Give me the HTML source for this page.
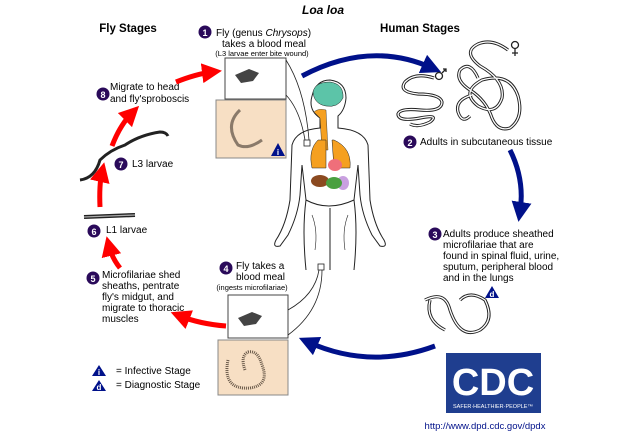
<!DOCTYPE html>
<html><head><meta charset="utf-8"><style>
html,body{margin:0;padding:0;background:#fff;}
svg{display:block;font-family:"Liberation Sans",Arial,sans-serif;}
</style></head><body>
<svg width="630" height="435" viewBox="0 0 630 435" xmlns="http://www.w3.org/2000/svg">
<defs>
<marker id="rh" markerWidth="4" markerHeight="4" refX="2" refY="2" orient="auto" markerUnits="strokeWidth"><path d="M0,0 L4,2 L0,4z" fill="#f00"/></marker>
<marker id="bh" markerWidth="4" markerHeight="4" refX="2" refY="2" orient="auto" markerUnits="strokeWidth"><path d="M0,0 L4,2 L0,4z" fill="#00118a"/></marker>
</defs>
<text x="323" y="14" font-size="12" font-weight="bold" font-style="italic" text-anchor="middle">Loa loa</text>
<text x="128" y="32" font-size="11.5" font-weight="bold" text-anchor="middle">Fly Stages</text>
<text x="420" y="32" font-size="11.5" font-weight="bold" text-anchor="middle">Human Stages</text>

<g font-size="10">
<circle cx="205" cy="32" r="6.5" fill="#2a0a5a"/><text x="205" y="36" fill="#fff" font-size="9" font-weight="bold" text-anchor="middle">1</text>
<text x="216" y="36">Fly (genus <tspan font-style="italic">Chrysops</tspan>)</text>
<text x="264" y="47" text-anchor="middle">takes a blood meal</text>
<text x="262" y="56" font-size="7.5" text-anchor="middle">(L3 larvae enter bite wound)</text>

<circle cx="410" cy="142" r="6.5" fill="#2a0a5a"/><text x="410" y="146" fill="#fff" font-size="9" font-weight="bold" text-anchor="middle">2</text>
<text x="420" y="145">Adults in subcutaneous tissue</text>

<circle cx="435" cy="234" r="6.5" fill="#2a0a5a"/><text x="435" y="238" fill="#fff" font-size="9" font-weight="bold" text-anchor="middle">3</text>
<text x="443" y="237">Adults produce sheathed</text>
<text x="443" y="248">microfilariae that are</text>
<text x="443" y="259">found in spinal fluid, urine,</text>
<text x="443" y="270">sputum, peripheral blood</text>
<text x="443" y="281">and in the lungs</text>

<circle cx="226" cy="268" r="6.5" fill="#2a0a5a"/><text x="226" y="272" fill="#fff" font-size="9" font-weight="bold" text-anchor="middle">4</text>
<text x="236" y="269">Fly takes a</text>
<text x="236" y="280">blood meal</text>
<text x="252" y="290" font-size="7.5" text-anchor="middle">(ingests microfilariae)</text>

<circle cx="93" cy="278" r="6.5" fill="#2a0a5a"/><text x="93" y="282" fill="#fff" font-size="9" font-weight="bold" text-anchor="middle">5</text>
<text x="102" y="278">Microfilariae shed</text>
<text x="102" y="289">sheaths, pentrate</text>
<text x="102" y="300">fly's midgut, and</text>
<text x="102" y="311">migrate to thoracic</text>
<text x="102" y="322">muscles</text>

<circle cx="94" cy="231" r="6.5" fill="#2a0a5a"/><text x="94" y="235" fill="#fff" font-size="9" font-weight="bold" text-anchor="middle">6</text>
<text x="106" y="233">L1 larvae</text>

<circle cx="121" cy="164" r="6.5" fill="#2a0a5a"/><text x="121" y="168" fill="#fff" font-size="9" font-weight="bold" text-anchor="middle">7</text>
<text x="132" y="167">L3 larvae</text>

<circle cx="103" cy="94" r="6.5" fill="#2a0a5a"/><text x="103" y="98" fill="#fff" font-size="9" font-weight="bold" text-anchor="middle">8</text>
<text x="110" y="90">Migrate to head</text>
<text x="110" y="102">and fly'sproboscis</text>

<path d="M99,365 L106,376 L92,376z" fill="#00118a"/><text x="99" y="375" fill="#fff" font-size="8" font-weight="bold" text-anchor="middle">i</text>
<text x="116" y="374">= Infective Stage</text>
<path d="M99,380 L106,391 L92,391z" fill="#00118a"/><text x="99" y="390" fill="#fff" font-size="8" font-weight="bold" text-anchor="middle">d</text>
<text x="116" y="388">= Diagnostic Stage</text>
</g>

<!-- red arrows -->
<g fill="none" stroke="#f00" stroke-width="5">
<path d="M176,82 Q196,74 212,72" marker-end="url(#rh)"/>
<path d="M112,146 Q120,125 132,113" marker-end="url(#rh)"/>
<path d="M100,207 Q99,185 102,172" marker-end="url(#rh)"/>
<path d="M120,268 Q112,258 109,246" marker-end="url(#rh)"/>
<path d="M226,326 Q200,324 180,316" marker-end="url(#rh)"/>
</g>
<!-- blue arrows -->
<g fill="none" stroke="#00118a" stroke-width="5">
<path d="M302,76 Q370,40 432,68" marker-end="url(#bh)"/>
<path d="M510,150 Q525,180 520,212" marker-end="url(#bh)"/>
<path d="M435,346 Q370,370 308,342" marker-end="url(#bh)"/>
</g>

<!-- boxes -->
<rect x="225" y="58" width="61" height="41" fill="#fff" stroke="#444"/>
<rect x="216" y="100" width="70" height="58" fill="#f7dfc4" stroke="#888"/>
<path d="M235,75 l14,-6 l10,4 l-6,8 l-12,2z" fill="#444"/>
<path d="M240,110 Q224,125 238,145 Q248,150 262,140" fill="none" stroke="#8a7a6a" stroke-width="3"/>
<path d="M271,156 L278,143 L285,156z" fill="#00118a"/>
<text x="278" y="155" fill="#fff" font-size="8" font-weight="bold" text-anchor="middle">i</text>
<rect x="228" y="295" width="60" height="43" fill="#fff" stroke="#444"/>
<rect x="218" y="340" width="70" height="55" fill="#f7dfc4" stroke="#888"/>
<path d="M238,318 l14,-6 l10,4 l-6,8 l-12,2z" fill="#444"/>
<path d="M228,360 Q222,390 250,388 Q270,385 262,365 Q258,350 248,352 Q240,356 245,370" fill="none" stroke="#6a5a4a" stroke-width="3" stroke-dasharray="1 1"/>
<!-- connector lines -->
<g fill="none" stroke="#222" stroke-width="0.8">
<path d="M286,60 Q305,90 309,140"/><path d="M286,95 Q300,110 305,140"/>
<rect x="304" y="140" width="6" height="6"/>
<rect x="318" y="264" width="6" height="6"/>
<path d="M288,310 Q315,295 319,270"/><path d="M288,335 Q322,310 322,270"/>
</g>

<!-- human -->
<g fill="none" stroke="#222" stroke-width="1">
<path d="M320,118 Q308,110 312,96 Q316,80 330,80 Q346,82 346,98 Q345,110 338,116 L338,128 Q364,130 368,145 L370,200 Q374,225 384,240 Q388,248 380,246 L372,235 Q362,215 360,195 L358,165 L354,200 Q358,230 354,270 M320,118 L320,128 Q296,130 292,145 L290,200 Q286,225 276,240 Q272,248 280,246 L288,235 Q298,215 300,195 L302,165 L306,200 Q302,230 306,270"/>
<path d="M306,200 Q328,212 354,200 M330,208 L330,270"/>
<path d="M312,215 Q318,230 315,250 M348,215 Q342,230 345,250" stroke-width="0.6"/>
</g>
<path d="M313,92 Q315,82 330,82 Q344,84 343,98 Q338,108 326,106 Q314,104 313,92z" fill="#5cc4a8" stroke="#222" stroke-width="0.5"/>
<path d="M314,112 Q318,108 326,110 L328,150 L322,150 L320,118z" fill="#f5a020" stroke="#222" stroke-width="0.4"/>
<path d="M318,140 Q308,150 312,168 L326,168 L326,140z M334,140 Q352,148 350,168 L334,168 L332,140z" fill="#f5a020" stroke="#222" stroke-width="0.5"/>
<ellipse cx="335" cy="165" rx="7" ry="6" fill="#ef6f7a"/>
<ellipse cx="343" cy="183" rx="6" ry="7" fill="#c9a0e0"/>
<ellipse cx="320" cy="181" rx="9" ry="6" fill="#8b4a20"/>
<ellipse cx="334" cy="183" rx="8" ry="6" fill="#4aa040"/>

<!-- worms -->
<g fill="none" stroke="#222" stroke-width="3.2">
<path id="m" d="M434,78 Q415,72 405,82 Q398,92 418,94 Q440,94 442,102 Q442,112 420,110 Q400,108 398,114 Q398,122 420,118 Q440,114 430,122 Q418,128 410,124"/>
<path id="f" d="M508,50 Q492,38 478,44 Q462,52 480,66 Q505,80 502,98 Q496,116 478,106 Q460,92 482,80 Q510,72 518,96 Q524,118 510,128 Q498,132 492,118 Q486,100 470,90 Q455,80 460,70 Q470,60 478,78 M472,95 Q455,100 458,112 Q462,124 470,116"/>
<path d="M84,217 L135,215" stroke-width="4"/>
<path d="M80,180 Q95,178 100,160 Q110,150 125,145 Q140,135 160,132 Q166,132 168,136" stroke-width="3"/>
<path id="w3" d="M425,300 Q445,290 450,310 Q460,340 480,330 Q495,320 485,300 Q470,290 460,300 M430,300 Q425,320 445,330"/>
</g>
<g fill="none" stroke="#fff" stroke-width="1.3">
<use href="#m"/><use href="#f"/><use href="#w3"/>
<path d="M84,217 L135,215" stroke="#aaa"/>
</g>
<g fill="none" stroke="#222" stroke-width="1.3">
<circle cx="439" cy="76" r="3.5"/><path d="M442,73 L446,69 M443,69 L446,69 L446,72"/>
<circle cx="515" cy="45" r="3.5"/><path d="M515,49 L515,56 M512,53 L518,53"/>
</g>
<path d="M485,298 L492,286 L499,298z" fill="#00118a"/><text x="492" y="297" fill="#fff" font-size="8" font-weight="bold" text-anchor="middle">d</text>

<!-- CDC -->
<rect x="446" y="353" width="95" height="60" fill="#1f3e8f"/>
<text x="493" y="395" fill="#fff" font-size="38" font-weight="bold" text-anchor="middle">CDC</text>
<text x="493" y="408" fill="#fff" font-size="5.5" text-anchor="middle">SAFER·HEALTHIER·PEOPLE™</text>
<text x="485" y="429" font-size="9.5" fill="#00118a" text-anchor="middle">http://www.dpd.cdc.gov/dpdx</text>
</svg>
</body></html>
